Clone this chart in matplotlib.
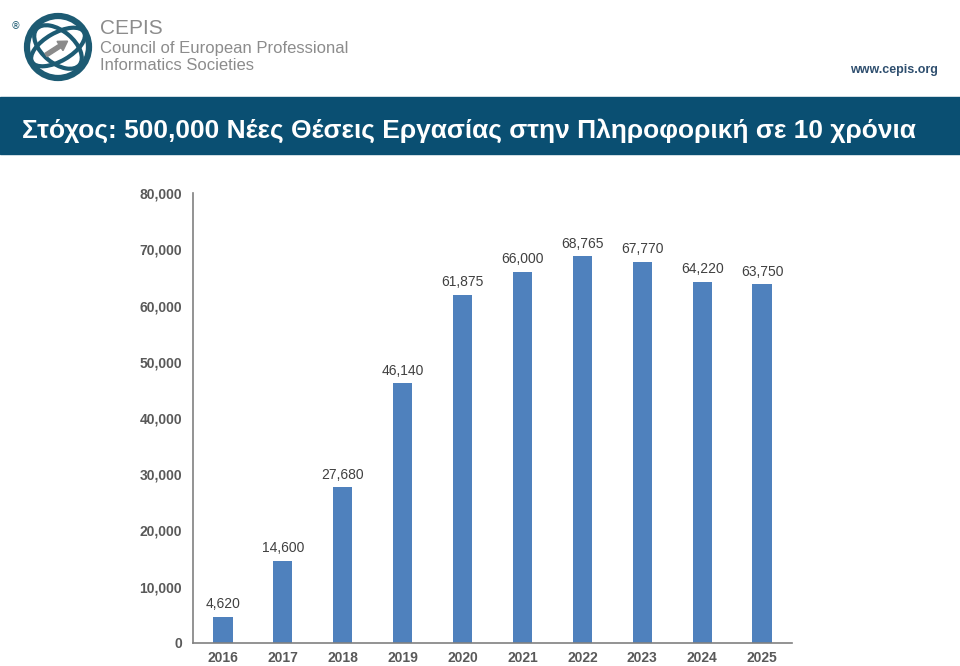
import matplotlib
matplotlib.use("Agg")
import matplotlib.pyplot as plt
from matplotlib.patches import Circle, Ellipse, Rectangle, FancyArrow

years = ["2016", "2017", "2018", "2019", "2020", "2021", "2022", "2023", "2024", "2025"]
jobs = [4620, 14600, 27680, 46140, 61875, 66000, 68765, 67770, 64220, 63750]
y_ticks = [0, 10000, 20000, 30000, 40000, 50000, 60000, 70000, 80000]

title = "Στόχος: 500,000 Νέες Θέσεις Εργασίας στην Πληροφορική σε 10 χρόνια"
bar_color = "#4F81BD"
band_color = "#0A4F72"
text_gray = "#595959"
font = "Liberation Sans"

fig = plt.figure(figsize=(9.6, 6.66), dpi=100)

# header drawn in pixel coordinates
hd = fig.add_axes([0, 0, 1, 1])
hd.set_xlim(0, 960)
hd.set_ylim(666, 0)
hd.axis("off")
hd.add_patch(Rectangle((0, 97), 960, 57, color=band_color, zorder=1))
t = hd.text(22, 138, title, color="white", fontsize=18, fontweight="bold",
            family=font, va="baseline", ha="left")
# shrink the title until it spans the band like the reference (x 22..918)
renderer = fig.canvas.get_renderer()
w = t.get_window_extent(renderer).width
t.set_fontsize(18 * 896 / w)

# logo
logo_c = "#1D5B73"
hd.add_patch(Circle((58, 47), 31, fill=False, lw=4.5, ec=logo_c))
hd.add_patch(Ellipse((58, 47), 60, 28, angle=-30, fill=False, lw=3, ec=logo_c))
hd.add_patch(Ellipse((58, 47), 56, 32, angle=40, fill=False, lw=3, ec=logo_c))
hd.add_patch(FancyArrow(46, 55, 14, -9, width=4, head_width=11, head_length=9,
                        color="#8A8A8A", zorder=3))
hd.text(16, 26, "®", fontsize=7, color=logo_c, ha="center", va="center")
hd.text(100, 29, "CEPIS", fontsize=15, color="#8C8C8C", va="center", ha="left",
        family=font)
hd.text(100, 49, "Council of European Professional", fontsize=12, color="#8C8C8C",
        va="center", ha="left", family=font)
hd.text(100, 66, "Informatics Societies", fontsize=12, color="#8C8C8C",
        va="center", ha="left", family=font)
hd.text(938, 70, "www.cepis.org", fontsize=9, color="#2F4F6F", fontweight="bold",
        va="center", ha="right", family=font)

# chart
ax = fig.add_axes([193 / 960, 23 / 666, 599 / 960, 450 / 666])
x = range(len(years))
ax.bar(x, jobs, width=0.32, color=bar_color, zorder=2)
ax.set_xlim(-0.5, len(years) - 0.5)
ax.set_ylim(0, 80000)
ax.set_yticks(y_ticks)
ax.set_yticklabels([f"{v:,}" for v in y_ticks])
ax.set_xticks(list(x))
ax.set_xticklabels(years)
for lbl in ax.get_yticklabels() + ax.get_xticklabels():
    lbl.set_fontsize(10)
    lbl.set_color(text_gray)
    lbl.set_fontweight("bold")
    lbl.set_family(font)
ax.tick_params(axis="both", length=0)
ax.tick_params(axis="x", pad=6)
ax.tick_params(axis="y", pad=8)
for side in ["top", "right"]:
    ax.spines[side].set_visible(False)
for side in ["left", "bottom"]:
    ax.spines[side].set_color("#808080")
    ax.spines[side].set_linewidth(1.2)

for xi, v in zip(x, jobs):
    ax.annotate(f"{v:,}", (xi, v), xytext=(0, 4), textcoords="offset points",
                ha="center", va="bottom", fontsize=10, color="#404040",
                family=font)

fig.savefig("out.png", dpi=100)
